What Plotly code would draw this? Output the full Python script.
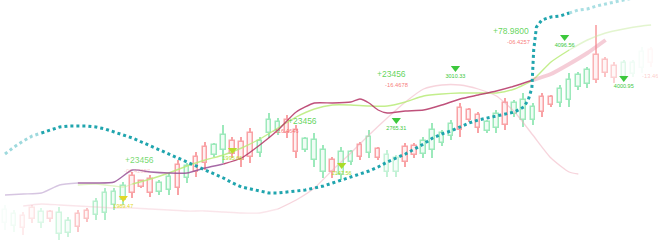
import plotly.graph_objects as go

# ---------------- data ----------------
idx = list(range(72))
opens  = [17,14,24,32,17,28,6,7,26,29,25,27,35,40,64,59,61,48,50,75,62,83,93,85,90,99,98,107,87,107,
          109,120,110,90,80,68,80,65,78,95,87,91,68,68,93,94,86,90,97,104,132,130,125,109,112,137,126,120,120,143,
          143,137,140,153,156,185,180,174,163,166,172,190]
highs  = [35,30,28,35,32,30,33,23,30,32,42,52,52,58,68,60,65,60,67,80,77,88,98,97,115,103,103,112,103,127,
          122,125,115,103,107,95,83,93,90,98,110,93,90,85,97,97,103,117,110,120,137,132,128,120,130,142,140,147,137,147,
          145,155,167,168,173,215,183,178,180,180,193,193]
lows   = [10,8,5,17,12,18,0,3,8,18,20,20,30,35,42,52,43,45,45,45,57,63,70,83,77,82,73,77,83,102,
          105,102,82,88,73,62,62,60,75,80,82,80,63,63,73,82,82,82,94,100,103,118,107,107,107,110,123,113,115,123,
          133,133,133,150,152,157,163,157,160,163,167,173]
closes = [30,26,12,21,28,21,27,19,13,21,38,47,48,54,47,53,47,57,63,52,74,68,77,95,105,86,80,83,99,120,
          118,107,88,101,100,90,68,88,88,83,103,82,85,82,78,85,99,110,107,116,110,120,112,118,126,115,137,140,133,128,
          135,151,160,165,170,160,167,162,177,177,188,177]

ma_a_x = [0,2,4,6,8,10,12,14,16,18,20,22,24,26,28,30,32,34,36,38,39,40,41,42,44,46,48,50,52,54,56,58,60,62,64,66]
ma_a   = [45,46,47,55,57,57,58,70,68,67,67,72,76,82,95,110,128,137,137,138,141,137,130,127,129,130,135,141,145,149,154,160,166,176,187,200]

ma_b_x = [8,10,12,13,14,16,18,20,22,24,26,28,30,32,34,36,38,40,42,44,46,48,50,52,54,56,58,60,62,64,66,68,70,71]
ma_b   = [55,56,54,53,56,61,67,74,80,85,92,101,112,123,131,135,135,134,134,138,144,146,147,147,147,151,160,178,190,200,207,211,214,215]

ma_c_x = [2,4,6,8,10,12,14,16,18,20,22,24,26,28,30,32,34,36,38,40,42,44,46,48,50,52,54,56,58,60,62,63]
ma_c   = [34,36,35,34,33,32,32,31,30,29,29,28,27,27,31,40,52,70,87,105,122,138,151,155,155,151,144,128,105,82,68,66]

trend_x = sorted(set(list(range(58)) + [57.5, 57.9, 58.1, 58.4] + list(range(59, 70))))
trend   = [86,93,99,104,107,110,113,114,114,114,113,111,108,105,102,98,94,90,86,82,
           78,74,70,66,62,57,53,51,49,47,47,48,49,50,52,54,57,60,63,66,
           69,73,78,82,86,91,96,102,106,109,113,117,120,122,124,126,128,133,140,152,
           190,213,220,223,224,227,230,231,234,236,238,240,242]

sig_x = [13, 25, 37, 43, 49.5, 61.5, 68]
sig_y = [42, 90, 75, 120, 172, 203, 162]
sig_labels = ["1989.47", "1995.66", "2147.56", "2765.31", "3010.33", "4096.56", "4000.95"]

note_text = ["+23456", "-06.42857", "+23456", "-116.4646", "+23456", "-16.4678", "+78.9800", "-06.4257", "-13.46"]
note_x    = [14.8, 14.5, 32.7, 30.9, 42.5, 43.0, 55.6, 56.4, 70.9]
note_y    = [80, 69, 119, 109, 166, 155, 209, 198, 164]

# ---------------- styling helpers ----------------
UP = (95, 220, 145)
DN = (245, 105, 110)
FONT = "Liberation Sans, Arial, sans-serif"

def fade(i):
    a = min(1.0, 0.08 + i * 0.065, 1.0 - (i - 64) * 0.17)
    if i in (42, 43):
        a *= 0.6
    return max(0.08, a) * 0.62

def mix(c, a):
    return "rgb(%d,%d,%d)" % tuple(round(255 - (255 - v) * a) for v in c)

up = [c >= o for o, c in zip(opens, closes)]
alphas = [fade(i) for i in idx]
line_cols = [mix(UP if u else DN, a) for u, a in zip(up, alphas)]
fill_cols = [mix(UP if u else DN, a * 0.15) for u, a in zip(up, alphas)]

fig = go.Figure()

# wicks
fig.add_trace(go.Bar(x=idx, base=lows, y=[h - l for h, l in zip(highs, lows)],
                     width=0.16, marker=dict(color=line_cols, line=dict(width=0)),
                     hoverinfo="skip"))
# bodies
fig.add_trace(go.Bar(x=idx, base=[min(o, c) for o, c in zip(opens, closes)],
                     y=[max(abs(c - o), 1) for o, c in zip(opens, closes)],
                     width=0.5, marker=dict(color=fill_cols, line=dict(color=line_cols, width=1.5)),
                     hoverinfo="skip"))

def seg(xs, ys, lo, hi, color, width, dash=None, shape="spline"):
    px = [x for x in xs if lo <= x <= hi]
    py = [y for x, y in zip(xs, ys) if lo <= x <= hi]
    fig.add_trace(go.Scatter(x=px, y=py, mode="lines", hoverinfo="skip",
                             line=dict(color=color, width=width, dash=dash, shape=shape, smoothing=0.6)))

# faint pink line
seg(ma_c_x, ma_c, 0, 30, "rgba(240,170,185,0.3)", 1.3)
seg(ma_c_x, ma_c, 30, 63, "rgba(240,170,185,0.5)", 1.3)
# lime line
seg(ma_b_x, ma_b, 8, 14, "rgba(200,235,150,0.55)", 1.3)
seg(ma_b_x, ma_b, 14, 62, "rgba(185,235,120,0.85)", 1.4)
seg(ma_b_x, ma_b, 62, 71, "rgba(200,235,160,0.5)", 1.4)
# purple/maroon line
seg(ma_a_x, ma_a, 0, 8, "rgba(180,150,200,0.55)", 1.3)
seg(ma_a_x, ma_a, 8, 24, "rgba(150,80,150,0.85)", 1.4)
seg(ma_a_x, ma_a, 24, 58, "rgba(180,50,100,0.85)", 1.4)
seg(ma_a_x, ma_a, 58, 66, "rgba(230,135,160,0.42)", 4)
# teal dotted trend
seg(trend_x, trend, 0, 4, "rgba(40,170,180,0.45)", 3, "3px,3px", "linear")
seg(trend_x, trend, 4, 62, "rgba(20,160,170,0.95)", 3, "3px,3px", "linear")
seg(trend_x, trend, 62, 70, "rgba(40,175,185,0.4)", 3, "3px,3px", "linear")

# signal markers
sig_cols = ["rgb(225,215,40)", "rgb(185,220,40)", "rgb(170,220,40)",
            "rgb(60,200,60)", "rgb(60,200,60)", "rgb(60,200,60)", "rgb(60,200,60)"]
fig.add_trace(go.Scatter(x=sig_x, y=sig_y, mode="markers+text", text=sig_labels,
                         textposition="bottom center", hoverinfo="skip",
                         textfont=dict(size=5.5, color=sig_cols, family=FONT),
                         marker=dict(symbol="triangle-down", size=8, color=sig_cols, line=dict(width=0))))

# number notes
for t, x, y in zip(note_text, note_x, note_y):
    green = t.startswith("+")
    faint = x < 20 or x > 70
    col = "rgba(70,205,60,%s)" % (0.85 if not faint else 0.75) if green else \
          "rgba(245,100,100,%s)" % (0.85 if not faint else 0.35)
    fig.add_annotation(x=x, y=y, text=t, showarrow=False,
                       font=dict(size=8.5 if green else 5.8, color=col, family=FONT))

fig.update_layout(width=658, height=240, margin=dict(l=0, r=0, t=0, b=0),
                  paper_bgcolor="white", plot_bgcolor="white", showlegend=False,
                  barmode="overlay", bargap=0)
fig.update_xaxes(range=[-0.55, 71.76], visible=False, showgrid=False, zeroline=False)
fig.update_yaxes(range=[0, 240], visible=False, showgrid=False, zeroline=False)

fig.write_html("out.html")
